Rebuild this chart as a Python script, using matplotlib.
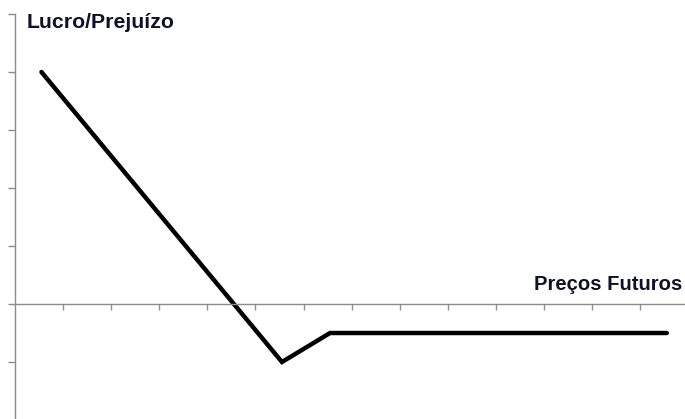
import matplotlib
matplotlib.use("Agg")
import matplotlib.pyplot as plt
import numpy as np

# Data: profit/loss at each future price category
categories = list(range(14))
pnl = [4, 3, 2, 1, 0, -1, -0.5, -0.5, -0.5, -0.5, -0.5, -0.5, -0.5, -0.5]
y_ticks = [-2, -1, 0, 1, 2, 3, 4, 5]
x_title = "Preços Futuros"
y_title = "Lucro/Prejuízo"

W, H = 685, 419
fig = plt.figure(figsize=(W / 100, H / 100), dpi=100)
fig.patch.set_facecolor("white")

# axes placement in pixels
unit_x = 48.1
unit_y = 58.0
left_px = 15
zero_y_px = 304  # from top
x0, x1 = 0, 14
y0, y1 = -2, 5
ax_left = left_px / W
ax_width = (x1 - x0) * unit_x / W
top_px = zero_y_px - y1 * unit_y
bottom_px = zero_y_px - y0 * unit_y
ax_bottom = (H - bottom_px) / H
ax_height = (bottom_px - top_px) / H
ax = fig.add_axes([ax_left, ax_bottom, ax_width, ax_height])
ax.set_xlim(x0, x1)
ax.set_ylim(y0, y1)
ax.patch.set_alpha(0)

axis_color = "#8c8c8c"
for s in ["top", "right"]:
    ax.spines[s].set_visible(False)
ax.spines["left"].set_color(axis_color)
ax.spines["bottom"].set_color(axis_color)
ax.spines["left"].set_linewidth(1.0)
ax.spines["bottom"].set_linewidth(1.0)
ax.spines["bottom"].set_position(("data", 0))

ax.set_xticks(np.arange(1, 14))
ax.set_yticks(y_ticks)
ax.tick_params(axis="x", direction="out", length=4, width=1.0, color=axis_color,
               labelbottom=False)
ax.tick_params(axis="y", direction="out", length=5, width=1.0, color=axis_color,
               labelleft=False)

xs = np.array(categories) + 0.55
ax.plot(xs, pnl, color="black", linewidth=3.2, solid_joinstyle="miter",
        solid_capstyle="round", clip_on=False)

fig.text(27 / W, 1 - 23 / H, y_title, fontsize=15.3, fontweight="bold",
         family="Liberation Sans", color="#101028", ha="left", va="center")
fig.text(682 / W, 1 - 284 / H, x_title, fontsize=14.6, fontweight="bold",
         family="Liberation Sans", color="#101028", ha="right", va="center")

fig.savefig("out.png", dpi=100, facecolor="white")
